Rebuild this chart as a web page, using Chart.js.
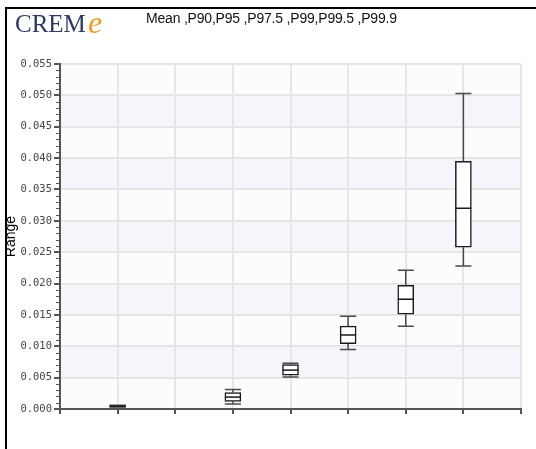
<!DOCTYPE html>
<html>
<head>
<meta charset="utf-8">
<script src="https://cdn.jsdelivr.net/npm/chart.js@4/dist/chart.umd.min.js"></script>
<style>
  html, body { margin: 0; padding: 0; background: #fff; }
  #wrap { position: relative; width: 536px; height: 449px; overflow: hidden; }
  #c { position: absolute; left: 0; top: 0; }
  #frame { position: absolute; left: 5px; top: 7px; right: -4px; bottom: -4px;
           border-left: 2px solid #000; border-top: 2px solid #000; pointer-events: none; }
  .logo { position: absolute; line-height: 1; white-space: nowrap; }
  #logoText { left: 15px; top: 11px; font-family: 'Liberation Serif', serif; font-size: 25px; color: #2b3a67; }
  #logoE { left: 88px; top: 6px; font-family: 'Liberation Serif', serif; font-style: italic; font-size: 32px; color: #f39c1f; }
  #title { position: absolute; left: 146px; top: 11px; line-height: 1; white-space: nowrap;
           font-family: 'Liberation Sans', Arial, sans-serif; font-size: 14px; letter-spacing: -0.2px; color: #111; }
</style>
</head>
<body>
<div id="wrap">
  <canvas id="c" width="536" height="449"></canvas>
  <div id="frame"></div>
  <div class="logo" id="logoText">CREM</div>
  <div class="logo" id="logoE">e</div>
  <div id="title">Mean ,P90,P95 ,P97.5 ,P99,P99.5 ,P99.9</div>
</div>
<script>
// Statistics shown along the x axis (positions 1..7)
const categories  = ['Mean', 'P90', 'P95', 'P97.5', 'P99', 'P99.5', 'P99.9'];
// Box-plot summaries per statistic (null = no box)
const whiskerLow  = [0.0003,  null, 0.0008, 0.0051, 0.0095, 0.0132, 0.0228];
const quartile1   = [0.0003,  null, 0.0012, 0.0054, 0.0104, 0.0151, 0.0258];
const medians     = [0.00045, null, 0.0019, 0.0062, 0.0118, 0.0175, 0.0320];
const quartile3   = [0.0006,  null, 0.0026, 0.0071, 0.0132, 0.0197, 0.0395];
const whiskerHigh = [0.0006,  null, 0.0031, 0.0073, 0.0148, 0.0221, 0.0503];
// Value axis
const yMin = 0, yMax = 0.055, yStep = 0.005, yMinorStep = 0.001;
const xSlots = 8;

const present = categories.map((c, i) => i).filter(i => quartile1[i] !== null);

// Alternating horizontal bands behind the grid
const bandPlugin = {
  id: 'bands',
  beforeDraw(chart) {
    const { ctx, chartArea: a, scales: { y } } = chart;
    ctx.save();
    ctx.fillStyle = '#fcfcfc';
    ctx.fillRect(a.left, a.top, a.width, a.height);
    ctx.fillStyle = '#f5f5fc';
    const nBands = Math.round((yMax - yMin) / yStep);
    for (let k = 1; k < nBands; k += 2) {
      const top = y.getPixelForValue(yMin + (k + 1) * yStep);
      const bot = y.getPixelForValue(yMin + k * yStep);
      ctx.fillRect(a.left, top, a.width, bot - top);
    }
    ctx.restore();
  }
};

// Minor tick marks on the value axis
const minorTickPlugin = {
  id: 'minorTicks',
  afterDraw(chart) {
    const { ctx, chartArea: a, scales: { y } } = chart;
    ctx.save();
    ctx.strokeStyle = '#555';
    ctx.lineWidth = 1;
    const n = Math.round((yMax - yMin) / yMinorStep);
    const per = Math.round(yStep / yMinorStep);
    for (let k = 0; k <= n; k++) {
      if (k % per === 0) continue;
      const py = Math.round(y.getPixelForValue(yMin + k * yMinorStep)) + 0.5;
      ctx.beginPath();
      ctx.moveTo(a.left - 4, py);
      ctx.lineTo(a.left, py);
      ctx.stroke();
    }
    ctx.restore();
  }
};

// Whiskers, caps and median lines on top of the box bars
const whiskerPlugin = {
  id: 'whiskers',
  afterDatasetsDraw(chart) {
    const { ctx, scales: { y } } = chart;
    const meta = chart.getDatasetMeta(0);
    ctx.save();
    meta.data.forEach((el, j) => {
      const i = present[j];
      const half = el.width / 2;
      const x = el.x;
      const pHigh = y.getPixelForValue(whiskerHigh[i]);
      const pLow = y.getPixelForValue(whiskerLow[i]);
      const pQ1 = y.getPixelForValue(quartile1[i]);
      const pQ3 = y.getPixelForValue(quartile3[i]);
      const pMed = y.getPixelForValue(medians[i]);
      ctx.strokeStyle = '#4a4a4a';
      ctx.lineWidth = 1.5;
      ctx.beginPath();
      ctx.moveTo(x, pQ3); ctx.lineTo(x, pHigh);
      ctx.moveTo(x, pQ1); ctx.lineTo(x, pLow);
      ctx.moveTo(x - half, pHigh); ctx.lineTo(x + half, pHigh);
      ctx.moveTo(x - half, pLow); ctx.lineTo(x + half, pLow);
      ctx.stroke();
      ctx.strokeStyle = '#1a1a1a';
      ctx.beginPath();
      ctx.moveTo(x - half, pMed); ctx.lineTo(x + half, pMed);
      ctx.stroke();
    });
    ctx.restore();
  }
};

new Chart(document.getElementById('c'), {
  type: 'bar',
  data: {
    datasets: [{
      label: 'Range',
      data: present.map(i => ({ x: i + 1, y: [quartile1[i], quartile3[i]] })),
      backgroundColor: '#ffffff',
      borderColor: '#1a1a1a',
      borderWidth: 1.5,
      borderSkipped: false,
      barThickness: 16
    }]
  },
  options: {
    responsive: false,
    animation: false,
    events: [],
    layout: { padding: { left: 3, top: 64, right: 15, bottom: 0 } },
    plugins: { legend: { display: false }, tooltip: { enabled: false } },
    scales: {
      x: {
        type: 'linear',
        offset: false,
        min: 0,
        max: xSlots,
        ticks: { stepSize: 1, callback: () => '' },
        grid: { offset: false, color: '#e6e6e6', lineWidth: 2, tickLength: 5, tickColor: '#555' },
        border: { color: '#555', width: 2 },
        afterFit: s => { s.height = 40; }
      },
      y: {
        min: yMin,
        max: yMax,
        ticks: {
          stepSize: yStep,
          callback: v => Number(v).toFixed(3),
          font: { family: 'DejaVu Sans Mono', size: 10.5 },
          color: '#444',
          padding: 2
        },
        grid: { color: '#e6e6e6', lineWidth: 2, tickLength: 6, tickColor: '#555' },
        border: { color: '#555', width: 2 },
        title: {
          display: true,
          text: 'Range',
          font: { family: 'Liberation Sans', size: 14 },
          color: '#000',
          padding: 0
        },
        afterFit: s => { s.width = 57; }
      }
    }
  },
  plugins: [bandPlugin, minorTickPlugin, whiskerPlugin]
});
</script>
</body>
</html>
